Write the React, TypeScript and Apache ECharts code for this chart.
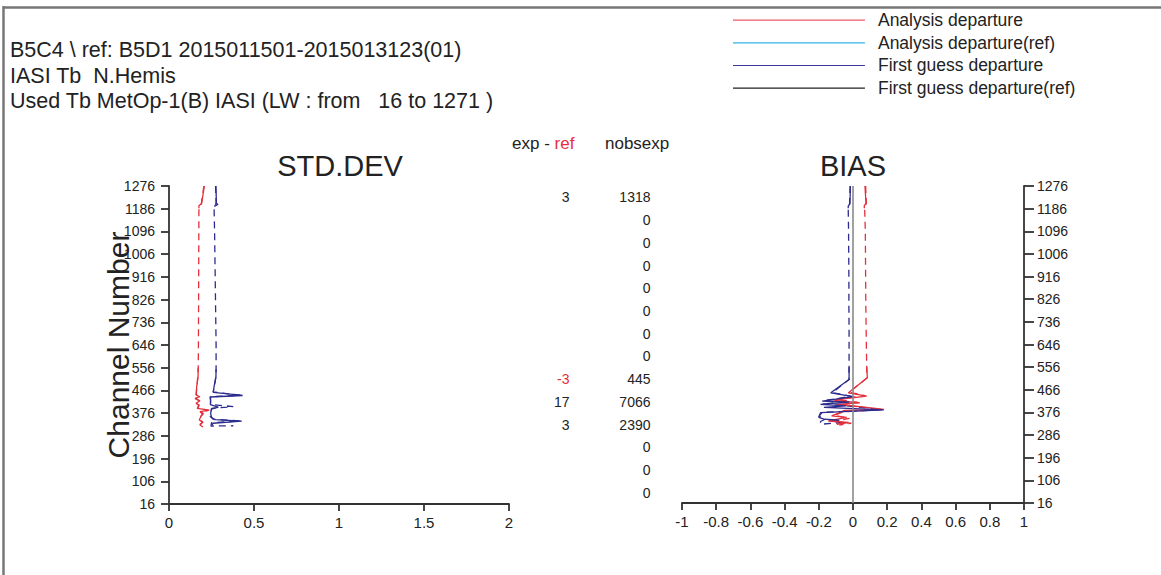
import React, { useEffect, useRef } from "react";
import * as echarts from "echarts";

// ---- axis definitions ----
const CH_MIN = 16;
const CH_MAX = 1276;
const CH_STEP = 90;

// ---- legend names ----
const NAMES = [
  "Analysis departure",
  "Analysis departure(ref)",
  "First guess departure",
  "First guess departure(ref)",
];
const LEGEND_COLORS = ["#ee5a66", "#33b5e5", "#3a3a96", "#222222"];

// ---- STD.DEV data: [channel, value] ----
const stdAnTop = [[1276, 0.208], [1207, 0.192], [1198, 0.176], [1188, 0.176]];
const stdAnLow = [
  [556, 0.172], [520, 0.171], [481, 0.163], [448, 0.159], [441, 0.182], [435, 0.153],
  [425, 0.182], [415, 0.159], [408, 0.178], [395, 0.166], [388, 0.237], [382, 0.182],
  [375, 0.202], [369, 0.192], [349, 0.178], [342, 0.198], [329, 0.182], [321, 0.2],
];
const stdAnRef = [
  [1276, 0.205], [1205, 0.19], [1186, 0.176], [1000, 0.175], [800, 0.174], [646, 0.173],
  [556, 0.172], [480, 0.165], [450, 0.16], [440, 0.18], [433, 0.155], [424, 0.18],
  [414, 0.16], [406, 0.176], [396, 0.168], [387, 0.23], [380, 0.185], [372, 0.2],
  [366, 0.19], [350, 0.176], [340, 0.2], [330, 0.18], [323, 0.195],
];
const stdFgTop = [[1276, 0.276], [1207, 0.279], [1203, 0.288], [1195, 0.266]];
const stdFgLow = [
  [550, 0.277], [520, 0.276], [480, 0.265], [458, 0.26], [446, 0.433], [440, 0.241],
  [425, 0.245], [410, 0.243], [400, 0.29], [392, 0.25], [375, 0.245], [360, 0.25],
  [350, 0.27], [344, 0.428], [336, 0.26], [328, 0.25],
];
const stdFgRef = [
  [1276, 0.274], [1207, 0.277], [1195, 0.265], [1100, 0.268], [1000, 0.27], [900, 0.272],
  [800, 0.274], [700, 0.276], [646, 0.277], [556, 0.277], [520, 0.276], [480, 0.266],
  [460, 0.26], [447, 0.42], [441, 0.245], [420, 0.244], [410, 0.247], [402, 0.378],
  [395, 0.25], [380, 0.248], [365, 0.24], [352, 0.26], [345, 0.42], [338, 0.25],
  [325, 0.247], [326, 0.378],
];

// ---- BIAS data: [channel, value] ----
const biasAnTop = [[1276, 0.07], [1207, 0.076], [1198, 0.066], [1188, 0.066]];
const biasAnLow = [
  [556, 0.08], [514, 0.084], [454, -0.027], [441, 0.08], [425, -0.115], [414, 0.04],
  [408, -0.095], [402, 0], [388, 0.18], [384, -0.05], [375, -0.076], [362, -0.125],
  [356, -0.037], [342, -0.144], [336, -0.027], [329, -0.095],
];
const biasAnRef = [
  [1276, 0.074], [1207, 0.078], [1189, 0.068], [1100, 0.072], [1000, 0.073], [900, 0.074],
  [800, 0.075], [700, 0.077], [600, 0.079], [514, 0.082], [456, -0.02], [443, 0.07],
  [428, -0.1], [416, 0.03], [406, -0.08], [400, 0.01], [388, 0.17], [378, -0.06],
  [365, -0.11], [352, -0.02], [340, -0.13], [333, -0.01], [326, -0.08],
];
const biasFgTop = [[1276, -0.015], [1205, -0.018], [1196, -0.028], [1188, -0.028]];
const biasFgLow = [
  [556, -0.023], [507, -0.023], [454, -0.13], [439, 0], [421, -0.18], [417, -0.02],
  [408, -0.19], [402, -0.04], [396, -0.17], [386, 0.18], [375, -0.19], [356, -0.2],
  [349, -0.17], [345, -0.08],
];
const biasFgRef = [
  [1276, -0.017], [1205, -0.02], [1190, -0.028], [1100, -0.026], [1000, -0.025],
  [900, -0.024], [800, -0.024], [700, -0.023], [600, -0.023], [507, -0.023],
  [455, -0.12], [440, -0.01], [423, -0.17], [418, -0.03], [410, -0.18], [403, -0.05],
  [387, 0.17], [376, -0.18], [360, -0.2], [350, -0.16], [340, -0.19], [329, -0.19],
  [336, -0.06],
];

// ---- table columns (per channel bin, top to bottom) ----
const binMids = [1231, 1141, 1051, 961, 871, 781, 691, 601, 511, 421, 331, 241, 151, 61];
const expMinusRef = [3, null, null, null, null, null, null, null, -3, 17, 3, null, null, null];
const nobsexp = [1318, 0, 0, 0, 0, 0, 0, 0, 445, 7066, 2390, 0, 0, 0];

const headerLines = [
  "B5C4 \\ ref: B5D1 2015011501-2015013123(01)",
  "IASI Tb  N.Hemis",
  "Used Tb MetOp-1(B) IASI (LW : from   16 to 1271 )",
];

const FONT = "'Liberation Sans', Arial, Helvetica, sans-serif";
const RED = "#e4303c";
const NAVY = "#2c2c8e";
const DASH = [7, 5];
// thin horizontal line icon whose bounding box spans the full item height
const LINE_ICON =
  "path://M0,0 L0.01,0 L0.01,0.01 L0,0.01 Z M0,8 L132,8 L132,9.2 L0,9.2 Z M0,17 L0.01,17 L0.01,17.01 L0,17.01 Z";

const toY = (c: number) => c - CH_MIN;
const conv = (arr: number[][]) => arr.map(([c, v]) => [v, toY(c)]);

function lineSeries(name: string, data: number[][], idx: number, color: string, dashed: boolean) {
  return {
    type: "line",
    name,
    xAxisIndex: idx,
    yAxisIndex: idx,
    data: conv(data),
    symbol: "none",
    silent: true,
    lineStyle: { color, width: 1.3, type: dashed ? DASH : "solid" },
    itemStyle: { color },
    z: dashed ? 2 : 3,
  };
}

function tableSeries(x: number, values: (number | null)[]) {
  return {
    type: "scatter",
    xAxisIndex: 2,
    yAxisIndex: 2,
    symbol: "circle",
    symbolSize: 1,
    silent: true,
    itemStyle: { color: "rgba(0,0,0,0)", opacity: 1 },
    data: binMids
      .map((c, i) =>
        values[i] === null
          ? null
          : {
              value: [x, toY(c)],
              label: {
                show: true,
                position: "left",
                distance: 0,
                opacity: 1,
                formatter: String(values[i]),
                color: (values[i] as number) < 0 ? RED : "#222",
                fontFamily: FONT,
                fontSize: 14,
              },
            }
      )
      .filter((d) => d !== null),
  };
}

export default function App() {
  const ref = useRef<HTMLDivElement>(null);
  useEffect(() => {
    if (!ref.current) return;
    const chart = echarts.init(ref.current, null, { renderer: "svg" });

    const axisLine = { show: true, lineStyle: { color: "#333", width: 1.8 } };
    const axisTick = { show: true, length: 8, lineStyle: { color: "#333", width: 1.8 } };
    const labelStyle = { fontFamily: FONT, fontSize: 14, color: "#222" };
    const xLabelStyle = { fontFamily: FONT, fontSize: 15, color: "#222" };

    const yBase = {
      type: "value",
      min: 0,
      max: CH_MAX - CH_MIN,
      interval: CH_STEP,
      splitLine: { show: false },
      axisLine,
      axisTick,
    };

    const series: any[] = [
      lineSeries(NAMES[1], stdAnRef, 0, RED, true),
      lineSeries(NAMES[3], stdFgRef, 0, NAVY, true),
      lineSeries(NAMES[0], stdAnTop, 0, RED, false),
      lineSeries(NAMES[0], stdAnLow, 0, RED, false),
      lineSeries(NAMES[2], stdFgTop, 0, NAVY, false),
      lineSeries(NAMES[2], stdFgLow, 0, NAVY, false),
      {
        ...lineSeries(NAMES[1], biasAnRef, 1, RED, true),
        markLine: {
          silent: true,
          symbol: ["none", "none"],
          label: { show: false },
          lineStyle: { color: "#8a8a8a", width: 1.6, type: "solid" },
          data: [{ xAxis: 0 }],
        },
      },
      lineSeries(NAMES[3], biasFgRef, 1, NAVY, true),
      lineSeries(NAMES[0], biasAnTop, 1, RED, false),
      lineSeries(NAMES[0], biasAnLow, 1, RED, false),
      lineSeries(NAMES[2], biasFgTop, 1, NAVY, false),
      lineSeries(NAMES[2], biasFgLow, 1, NAVY, false),
      tableSeries(70, expMinusRef),
      tableSeries(151, nobsexp),
    ];

    const textEl = (text: string, x: number, y: number, size: number, align: string, fill = "#222") => ({
      type: "text",
      silent: true,
      x,
      y,
      style: {
        text,
        font: `${size}px ${FONT}`,
        fill,
        align,
        textAlign: align,
        verticalAlign: "middle",
        textVerticalAlign: "middle",
      },
    });

    const option: any = {
      animation: false,
      backgroundColor: "#ffffff",
      legend: {
        orient: "vertical",
        left: 728,
        top: 6,
        itemWidth: 132,
        itemHeight: 17,
        itemGap: 4.7,
        selectedMode: false,
        textStyle: { fontFamily: FONT, fontSize: 17.5, color: "#222", padding: [0, 0, 0, 8] },
        data: NAMES.map((n, i) => ({
          name: n,
          icon: LINE_ICON,
          itemStyle: { color: LEGEND_COLORS[i] },
        })),
      },
      grid: [
        { left: 169, top: 186, width: 340, height: 318, outerBoundsMode: "none" },
        { left: 682, top: 186, width: 342, height: 317, outerBoundsMode: "none" },
        { left: 500, top: 186, width: 200, height: 318, outerBoundsMode: "none" },
      ],
      xAxis: [
        {
          type: "value",
          gridIndex: 0,
          min: 0,
          max: 2,
          interval: 0.5,
          splitLine: { show: false },
          axisLine,
          axisTick: { ...axisTick, length: 7 },
          axisLabel: { ...xLabelStyle, margin: 11 },
        },
        {
          type: "value",
          gridIndex: 1,
          min: -1,
          max: 1,
          interval: 0.2,
          splitLine: { show: false },
          axisLine: { ...axisLine, onZero: false },
          axisTick: { ...axisTick, length: 7 },
          axisLabel: { ...xLabelStyle, margin: 11 },
        },
        { type: "value", gridIndex: 2, min: 0, max: 200, show: false },
      ],
      yAxis: [
        {
          ...yBase,
          gridIndex: 0,
          position: "left",
          axisLabel: { ...labelStyle, margin: 14, formatter: (v: number) => String(v + CH_MIN) },
          name: "Channel Number",
          nameLocation: "middle",
          nameRotate: 90,
          nameGap: 36,
          nameMoveOverlap: false,
          nameTextStyle: { fontFamily: FONT, fontSize: 30, color: "#222" },
        },
        {
          ...yBase,
          gridIndex: 1,
          position: "right",
          axisLine: { ...axisLine, onZero: false },
          axisTick: { ...axisTick, length: 10 },
          axisLabel: { ...labelStyle, margin: 13, formatter: (v: number) => String(v + CH_MIN) },
        },
        { ...yBase, gridIndex: 2, show: false },
      ],
      graphic: [
        {
          type: "line",
          silent: true,
          shape: { x1: 3, y1: 7.5, x2: 1161, y2: 7.5 },
          style: { stroke: "#777", lineWidth: 2.5 },
        },
        {
          type: "line",
          silent: true,
          shape: { x1: 3.5, y1: 6, x2: 3.5, y2: 575 },
          style: { stroke: "#777", lineWidth: 2.5 },
        },
        ...headerLines.map((t, i) => textEl(t, 10, 50 + i * 25.5, 21.5, "left")),
        textEl("STD.DEV", 340, 166, 29, "center"),
        textEl("BIAS", 853, 166, 29, "center"),
        {
          type: "text",
          silent: true,
          x: 512,
          y: 143,
          style: {
            text: "{a|exp - }{b|ref}",
            rich: {
              a: { fontFamily: FONT, fontSize: 17, fill: "#222", color: "#222" },
              b: { fontFamily: FONT, fontSize: 17, fill: RED, color: RED },
            },
            font: `17px ${FONT}`,
            fill: "#222",
            align: "left",
            textAlign: "left",
            verticalAlign: "middle",
            textVerticalAlign: "middle",
          },
        },
        textEl("nobsexp", 605, 143, 17, "left"),
      ],
      series,
    };

    chart.setOption(option);
    return () => chart.dispose();
  }, []);

  return (
    <div
      ref={ref}
      style={{ position: "fixed", left: 0, top: 0, width: 1161, height: 575, background: "#fff" }}
    />
  );
}
